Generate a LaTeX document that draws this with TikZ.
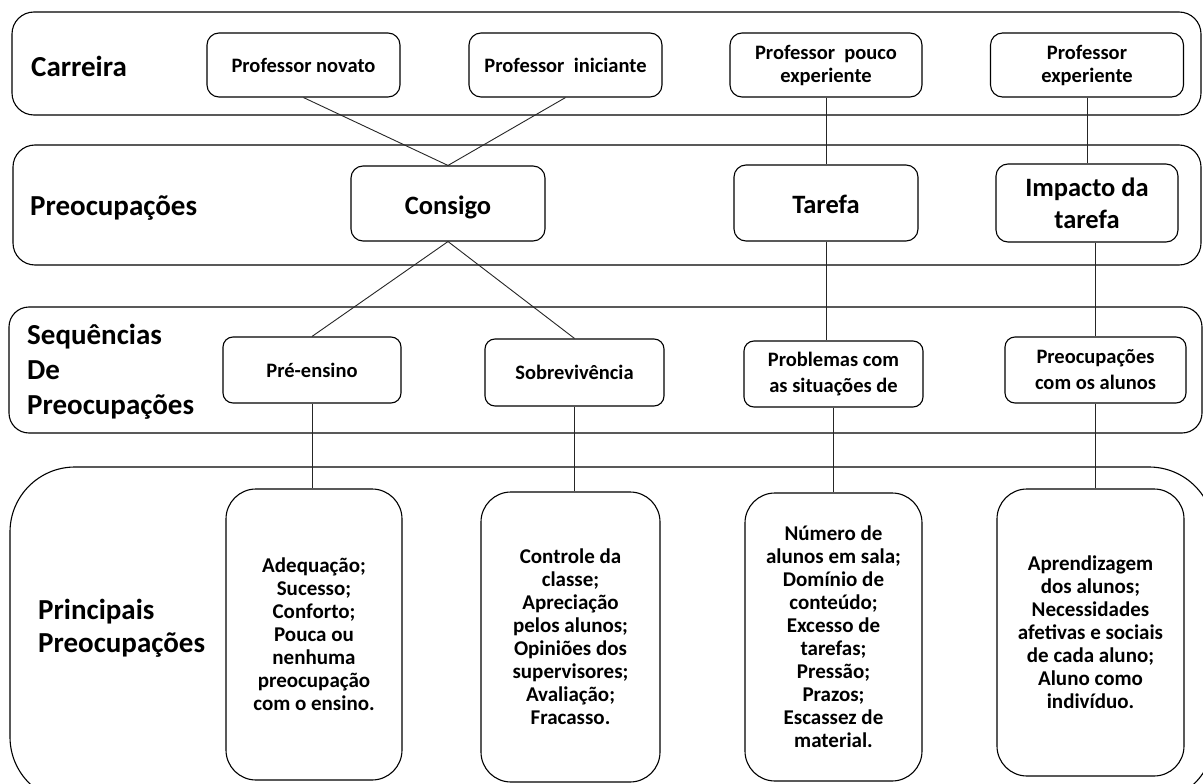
\documentclass[tikz,border=0pt]{standalone}
\usepackage{fontspec}
\setmainfont{Carlito}
\begin{document}
\begin{tikzpicture}[x=1pt,y=-1pt,
  band/.style={draw=black,line width=1.1pt},
  box/.style={draw=black,line width=1.1pt,rounded corners=12pt,align=center,inner sep=0pt,font=\bfseries},
  tallbox/.style={box,rounded corners=30pt},
  lbl/.style={anchor=west,align=left,inner sep=0pt,font=\bfseries\fontsize{29}{35}\selectfont},
  link/.style={draw=black!85,line width=0.9pt},
  small/.style={font=\bfseries\fontsize{20.5}{23}\selectfont},
  mid/.style={font=\bfseries\fontsize{26.5}{32}\selectfont},
  oneline/.style={text height=21pt,text depth=0pt},
  third/.style={font=\bfseries\fontsize{20.5}{26}\selectfont},
  body/.style={font=\bfseries\fontsize{21}{23}\selectfont}]
\clip (0,0) rectangle (1203,784);
\fill[white] (0,0) rectangle (1203,784);

% horizontal bands
\draw[band,rounded corners=22pt] (12,12) rectangle (1201,115);
\draw[band,rounded corners=22pt] (13,145) rectangle (1201,265);
\draw[band,rounded corners=20pt] (9,307) rectangle (1202,433);
\draw[band,rounded corners=65pt] (10,467) rectangle (1214,802);

% band titles
\node[lbl] (tCarreira) at (31,66) {Carreira};
\node[lbl] (tPreoc) at (30,208) {Preocupações};
\node[lbl] (tSeq) at (27,372) {Sequências\\De\\Preocupações};
\node[lbl,font=\bfseries\fontsize{29}{33}\selectfont] (tPrinc) at (38,628) {Principais\\Preocupações};

% career stages
\node[box,small,minimum width=193pt,minimum height=64pt] (novato) at (303.5,65) {Professor novato};
\node[box,small,minimum width=193pt,minimum height=64pt] (inic) at (565.5,65) {Professor~~iniciante};
\node[box,small,minimum width=192pt,minimum height=64pt] (pouco) at (826,65) {Professor~~pouco\\experiente};
\node[box,small,minimum width=193pt,minimum height=64pt] (exper) at (1087,65) {Professor\\experiente};

% concerns
\node[box,mid,oneline,minimum width=194pt,minimum height=75pt] (consigo) at (448,203.5) {Consigo};
\node[box,mid,oneline,minimum width=184pt,minimum height=76pt] (tarefa) at (826,203) {Tarefa};
\node[box,mid,minimum width=182pt,minimum height=78pt] (impacto) at (1087,203) {Impacto da\\tarefa};

% sequences
\node[box,third,rounded corners=10pt,minimum width=178pt,minimum height=66pt] (pre) at (312,370) {Pré-ensino};
\node[box,third,rounded corners=10pt,minimum width=179pt,minimum height=67pt] (sob) at (574.5,372.5) {Sobrevivência};
\node[box,third,rounded corners=10pt,minimum width=179pt,minimum height=66pt] (prob) at (833.5,374) {Problemas com\\as situações de};
\node[box,third,rounded corners=10pt,minimum width=181pt,minimum height=66pt] (alun) at (1095.5,370) {Preocupações\\com os alunos};

% main concerns
\node[tallbox,body,minimum width=176pt,minimum height=291pt] (c1) at (314,634.5) {Adequação;\\Sucesso;\\Conforto;\\Pouca ou\\nenhuma\\preocupação\\com o ensino.};
\node[tallbox,body,minimum width=179pt,minimum height=290pt] (c2) at (570.5,637) {Controle da\\classe;\\Apreciação\\pelos alunos;\\Opiniões dos\\supervisores;\\Avaliação;\\Fracasso.};
\node[tallbox,body,minimum width=177pt,minimum height=288pt] (c3) at (833.5,637) {Número de\\alunos em sala;\\Domínio de\\conteúdo;\\Excesso de\\tarefas;\\Pressão;\\Prazos;\\Escassez de\\material.};
\node[tallbox,body,minimum width=187pt,minimum height=287pt] (c4) at (1090.5,632.5) {Aprendizagem\\dos alunos;\\Necessidades\\afetivas e sociais\\de cada aluno;\\Aluno como\\indivíduo.};

% connectors
\draw[link] (novato.south) -- (consigo.north);
\draw[link] (inic.south) -- (consigo.north);
\draw[link] (pouco.south -| tarefa.north) -- (tarefa.north);
\draw[link] (exper.south) -- (exper.south |- impacto.north);
\draw[link] (consigo.south) -- (pre.north);
\draw[link] (consigo.south) -- (sob.north);
\draw[link] (tarefa.south) -- (tarefa.south |- prob.north);
\draw[link] (impacto.south -| alun.north) -- (alun.north);
\draw[link] (pre.south) -- (pre.south |- c1.north);
\draw[link] (sob.south) -- (sob.south |- c2.north);
\draw[link] (prob.south) -- (prob.south |- c3.north);
\draw[link] (alun.south) -- (alun.south |- c4.north);
\end{tikzpicture}
\end{document}
